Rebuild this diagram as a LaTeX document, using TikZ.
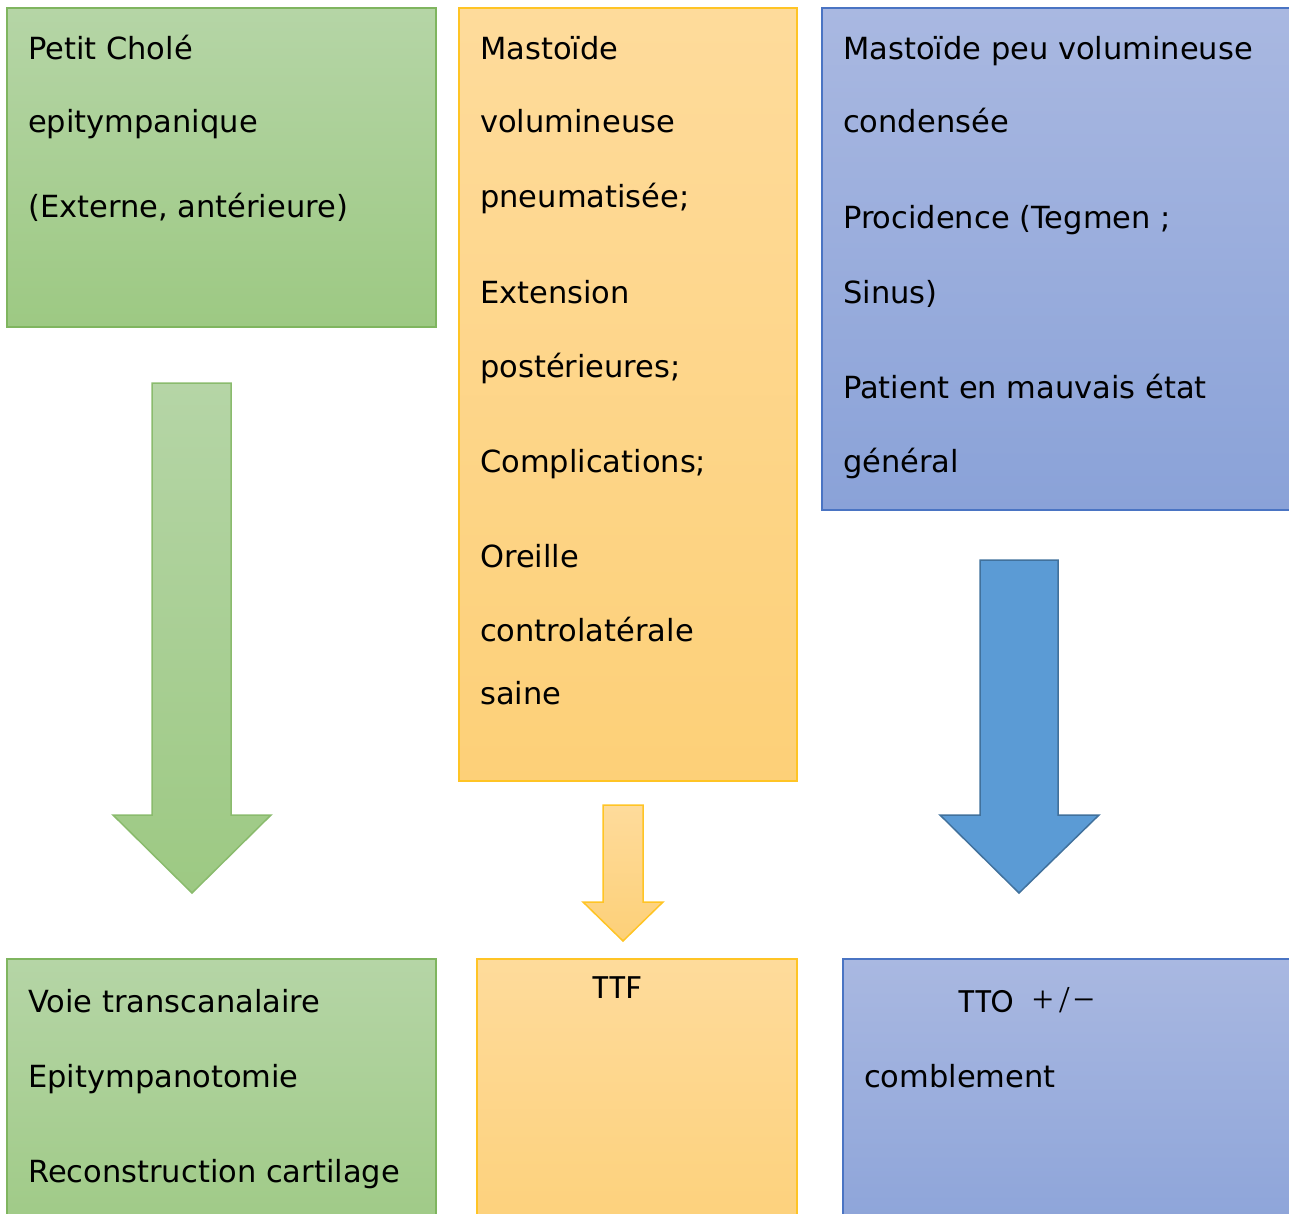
\documentclass[tikz,border=0pt]{standalone}
\usepackage{fontspec}
\setmainfont{DejaVu Sans}
\newfontfamily\calfont{Carlito}
\newfontfamily\symfont{Liberation Serif}

% palette
\definecolor{gtop}{HTML}{B5D5A6}
\definecolor{gbot}{HTML}{9DC983}
\definecolor{gline}{HTML}{7FB55F}
\definecolor{otop}{HTML}{FEDB9B}
\definecolor{obot}{HTML}{FDD078}
\definecolor{oline}{HTML}{FFC425}
\definecolor{btop}{HTML}{A9B8E1}
\definecolor{bbot}{HTML}{8AA2D8}
\definecolor{bline}{HTML}{4A74C3}
\definecolor{afill}{HTML}{5B9BD5}
\definecolor{aline}{HTML}{41719C}

\begin{document}
\begin{tikzpicture}[x=1pt,y=-1pt,
  panel/.style={rectangle,inner sep=0pt,outer sep=0pt,anchor=north west,line width=1.5pt},
  greenbox/.style={panel,draw=gline,top color=gtop,bottom color=gbot},
  orangebox/.style={panel,draw=oline,top color=otop,bottom color=obot},
  bluebox/.style={panel,draw=bline,top color=btop,bottom color=bbot},
  txt/.style={anchor=base west,inner sep=0pt,font=\fontsize{30.5}{36}\selectfont},
  ctxt/.style={anchor=base west,inner sep=0pt,font=\calfont\fontsize{34}{40}\selectfont},
  greenarrow/.style={draw=gline!80!gtop,line width=1.5pt,top color=gtop,bottom color=gbot},
  orangearrow/.style={draw=oline,line width=1.5pt,top color=otop,bottom color=obot},
  bluearrow/.style={draw=aline,line width=1.5pt,fill=afill},
]
\useasboundingbox (0,0) rectangle (1289,1214);
\clip (0,0) rectangle (1289,1214);

% upper row of panels
\node[greenbox,minimum width=429pt,minimum height=319pt] (gtopbox) at (7,8) {};
\node[orangebox,minimum width=338pt,minimum height=773pt] (otopbox) at (459,8) {};
\node[bluebox,minimum width=490pt,minimum height=502pt] (btopbox) at (822,8) {};

% lower row of panels
\node[greenbox,minimum width=429pt,minimum height=300pt] (gbotbox) at (7,959) {};
\node[orangebox,minimum width=320pt,minimum height=300pt] (obotbox) at (477,959) {};
\node[bluebox,minimum width=469pt,minimum height=300pt] (bbotbox) at (843,959) {};

% block arrows
\draw[greenarrow] (152,383) -- (231,383) -- (231,815) -- (271,815) -- (192,893)
  -- (113,815) -- (152,815) -- cycle;
\draw[orangearrow] (603,805) -- (643,805) -- (643,902) -- (663,902) -- (623,941)
  -- (583,902) -- (603,902) -- cycle;
\draw[bluearrow] (980,560) -- (1058,560) -- (1058,815) -- (1099,815) -- (1019,893)
  -- (940,815) -- (980,815) -- cycle;

% green column text
\node[txt] (g1) at (28,60) {Petit Cholé};
\node[txt] (g2) at (28,133) {epitympanique};
\node[txt] (g3) at (28,218) {(Externe, antérieure)};
\node[txt] (g4) at (28,1012) {Voie transcanalaire};
\node[txt] (g5) at (28,1087) {Epitympanotomie};
\node[txt] (g6) at (28,1182) {Reconstruction cartilage};

% orange column text
\node[txt] (o1) at (480,60) {Mastoïde};
\node[txt] (o2) at (480,133) {volumineuse};
\node[txt] (o3) at (480,208) {pneumatisée;};
\node[txt] (o4) at (480,303) {Extension};
\node[txt] (o5) at (480,377) {postérieures;};
\node[txt] (o6) at (480,472) {Complications;};
\node[txt] (o7) at (480,567) {Oreille};
\node[txt] (o8) at (480,641) {controlatérale};
\node[txt] (o9) at (480,704) {saine};
\node[ctxt] (o10) at (592,998) {TTF};

% blue column text
\node[txt] (b1) at (843,60) {Mastoïde peu volumineuse};
\node[txt] (b2) at (843,133) {condensée};
\node[txt] (b3) at (843,229) {Procidence (Tegmen ;};
\node[txt] (b4) at (843,303) {Sinus)};
\node[txt] (b5) at (843,398) {Patient en mauvais état};
\node[txt] (b6) at (843,472) {général};
\node[ctxt] (b7) at (958,1012) {TTO\hspace{0.55em}{\symfont\fontsize{38}{44}\selectfont +\hspace{0.15em}/\hspace{0.1em}−}};
\node[txt] (b8) at (864,1087) {comblement};
\end{tikzpicture}
\end{document}
